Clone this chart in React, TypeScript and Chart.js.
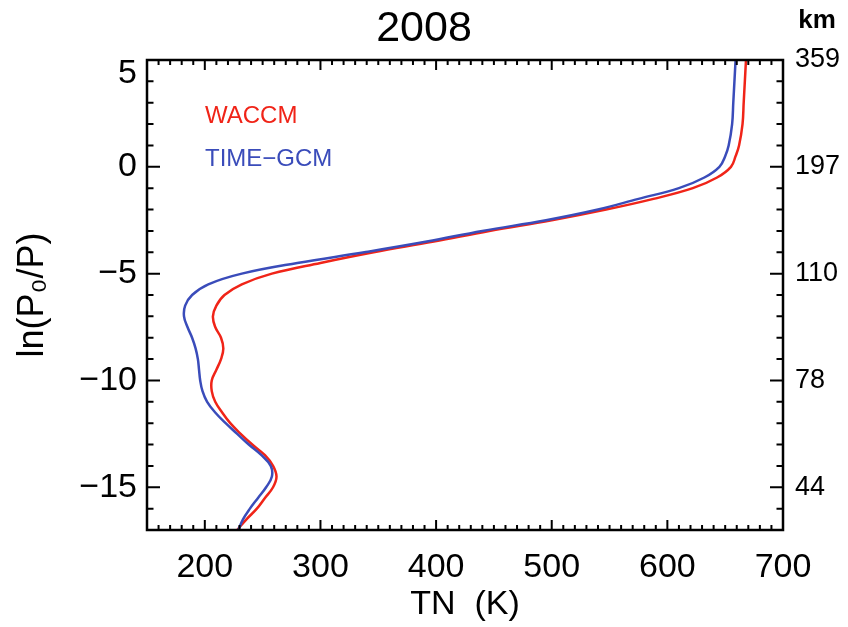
import React, { useEffect, useRef } from 'react';
import { Chart, registerables } from 'chart.js';

Chart.register(...registerables);

// ln(P0/P) levels (y) from top to bottom
const levels = [5, 4, 3, 2, 1, 0.5, 0, -0.5, -1, -1.5, -2, -2.5, -3, -3.5, -4, -4.5, -5, -5.5, -6, -6.5, -7, -7.5, -8, -8.5, -9, -9.5, -10, -10.5, -11, -11.5, -12, -12.5, -13, -13.5, -14, -14.5, -15, -15.5, -16, -16.5, -17];

// WACCM neutral temperature (K)
const waccmT = [668, 667, 666, 665, 662, 659, 655, 643, 622, 588, 547, 500, 446, 398, 346, 300, 258, 232, 217, 210, 207, 209, 214, 216, 214, 210, 206, 206, 209, 215, 222, 231, 241, 252, 259, 262, 259, 252, 245, 236, 228];

// TIME-GCM neutral temperature (K)
const timegcmT = [659, 658, 657, 656, 653, 650, 645, 632, 610, 575, 540, 495, 440, 392, 338, 280, 232, 203, 189, 183, 182, 185, 189, 192, 194, 195, 196, 198, 202, 209, 218, 228, 238, 249, 257, 258, 253, 246, 239, 233, 229];

const xTicks = [200, 300, 400, 500, 600, 700];
const yTicks = [-15, -10, -5, 0, 5];
const kmLabels = ['44', '78', '110', '197', '359'];

const X_MIN = 150;
const X_MAX = 700;
const X_MINOR = 10;
const Y_MIN = -17;
const Y_MAX = 5;
const Y_MINOR = 1;

const RED = 'rgb(240, 36, 24)';
const BLUE = 'rgb(58, 76, 186)';
const FONT = '"Liberation Sans", Arial, Helvetica, sans-serif';

const fmt = (v: number) => (v < 0 ? '\u2212' + Math.abs(v) : String(v));

const framePlugin = {
  id: 'idlFrame',
  afterDatasetsDraw(chart: any) {
    const { ctx, chartArea: a, scales } = chart;
    const xs = scales.x;
    const ys = scales.y;
    ctx.save();
    ctx.strokeStyle = '#000';
    ctx.lineWidth = 2;
    ctx.beginPath();
    for (let t = X_MIN; t <= X_MAX + 1e-6; t += X_MINOR) {
      const px = xs.getPixelForValue(t);
      const len = t % 100 === 0 ? 10 : 5;
      ctx.moveTo(px, a.bottom);
      ctx.lineTo(px, a.bottom - len);
      ctx.moveTo(px, a.top);
      ctx.lineTo(px, a.top + len);
    }
    for (let z = Y_MIN; z <= Y_MAX + 1e-6; z += Y_MINOR) {
      const py = ys.getPixelForValue(z);
      const len = z % 5 === 0 ? 13 : 6.5;
      ctx.moveTo(a.left, py);
      ctx.lineTo(a.left + len, py);
      ctx.moveTo(a.right, py);
      ctx.lineTo(a.right - len, py);
    }
    ctx.stroke();
    ctx.lineWidth = 2.5;
    ctx.strokeRect(a.left, a.top, a.right - a.left, a.bottom - a.top);

    // legend text
    ctx.font = '24px ' + FONT;
    ctx.textAlign = 'left';
    ctx.textBaseline = 'middle';
    ctx.fillStyle = RED;
    ctx.fillText('WACCM', a.left + 58, a.top + 56);
    ctx.fillStyle = BLUE;
    ctx.fillText('TIME\u2212GCM', a.left + 58, a.top + 99);

    // km unit label
    ctx.fillStyle = '#000';
    ctx.font = 'bold 26px ' + FONT;
    ctx.textAlign = 'center';
    ctx.fillText('km', a.right + 34, 21);
    ctx.restore();
  },
};

export default function App() {
  const ref = useRef<HTMLCanvasElement | null>(null);

  useEffect(() => {
    if (!ref.current) return;
    Chart.defaults.font.family = FONT;
    Chart.defaults.color = '#000';

    const chart = new Chart(ref.current, {
      type: 'scatter',
      data: {
        datasets: [
          {
            label: 'TIME-GCM',
            data: levels.map((z, i) => ({ x: timegcmT[i], y: z })),
            borderColor: BLUE,
            backgroundColor: BLUE,
            borderWidth: 2.5,
            pointRadius: 0,
            showLine: true,
            tension: 0.4,
            fill: false,
          },
          {
            label: 'WACCM',
            data: levels.map((z, i) => ({ x: waccmT[i], y: z })),
            borderColor: RED,
            backgroundColor: RED,
            borderWidth: 2.5,
            pointRadius: 0,
            showLine: true,
            tension: 0.4,
            fill: false,
          },
        ],
      },
      options: {
        animation: false,
        responsive: false,
        maintainAspectRatio: false,
        layout: { padding: 0 },
        plugins: {
          legend: { display: false },
          tooltip: { enabled: false },
          title: {
            display: true,
            text: '2008',
            color: '#000',
            font: { size: 43, weight: 'normal' },
            padding: { top: 3, bottom: 5.4 },
          },
        },
        scales: {
          x: {
            type: 'linear',
            position: 'bottom',
            min: X_MIN,
            max: X_MAX,
            afterBuildTicks: (s: any) => {
              s.ticks = xTicks.map((v) => ({ value: v }));
            },
            afterFit: (s: any) => {
              s.height = 97;
            },
            ticks: {
              color: '#000',
              font: { size: 34 },
              padding: 17,
              maxRotation: 0,
              autoSkip: false,
              callback: (v: any) => fmt(Number(v)),
            },
            grid: { display: false, drawTicks: false },
            border: { display: false },
            title: {
              display: true,
              text: 'TN  (K)',
              color: '#000',
              font: { size: 34 },
              padding: { top: 0, bottom: 2 },
            },
          },
          y: {
            type: 'linear',
            position: 'left',
            min: Y_MIN,
            max: Y_MAX,
            afterBuildTicks: (s: any) => {
              s.ticks = yTicks.map((v) => ({ value: v }));
            },
            afterFit: (s: any) => {
              s.width = 147;
            },
            ticks: {
              color: '#000',
              font: { size: 34, lineHeight: 0.8 },
              padding: 10,
              autoSkip: false,
              callback: (v: any) => (Number(v) === Y_MAX ? ['', fmt(Number(v))] : fmt(Number(v))),
            },
            grid: { display: false, drawTicks: false },
            border: { display: false },
            title: {
              display: true,
              text: 'ln(P\u2080/P)',
              color: '#000',
              font: { size: 36 },
              padding: { top: 11, bottom: 0 },
            },
          },
          y2: {
            type: 'linear',
            position: 'right',
            min: Y_MIN,
            max: Y_MAX,
            afterBuildTicks: (s: any) => {
              s.ticks = yTicks.map((v) => ({ value: v }));
            },
            afterFit: (s: any) => {
              s.width = 65;
            },
            ticks: {
              color: '#000',
              font: { size: 27 },
              padding: 12,
              autoSkip: false,
              callback: (v: any) => {
                const i = yTicks.indexOf(Number(v));
                return i >= 0 ? kmLabels[i] : '';
              },
            },
            grid: { display: false, drawTicks: false },
            border: { display: false },
          },
        },
      },
      plugins: [framePlugin],
    } as any);

    return () => chart.destroy();
  }, []);

  return (
    <div style={{ position: 'fixed', left: 0, top: 0, width: 848, height: 627, background: '#fff' }}>
      <canvas ref={ref} width={848} height={627} />
    </div>
  );
}
